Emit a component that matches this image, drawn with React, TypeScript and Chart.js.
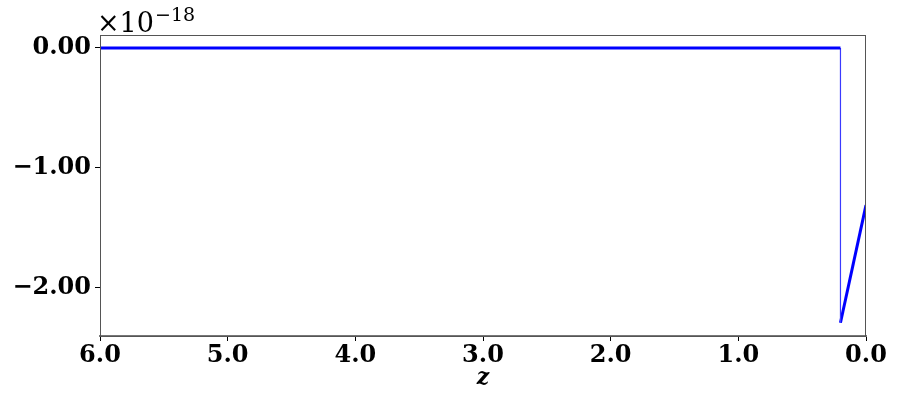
import React, { useEffect, useRef } from "react";
import { Chart, registerables } from "chart.js";

Chart.register(...registerables);

// values in units of 1e-18
const flatZ = [6.0, 0.2];
const flatV = [0.0, 0.0];
const dropZ = [0.2, 0.2];
const dropV = [0.0, -2.29];
const tailZ = [0.2, 0.0];
const tailV = [-2.29, -1.31];
const xTicks = [0, 1, 2, 3, 4, 5, 6];
const yTicks = [0, -1, -2];
const yTickLabels = ["0.00", "\u22121.00", "\u22122.00"];
const xLabel = "z";
const offsetBase = "\u00d710";
const offsetExp = "\u221218";

const toPts = (xs: number[], ys: number[]) => xs.map((x, i) => ({ x, y: ys[i] }));

const framePlugin = {
  id: "frame",
  afterDraw(chart: any) {
    const { ctx, chartArea } = chart;
    const { left, right, top, bottom } = chartArea;
    ctx.save();
    ctx.strokeStyle = "#555";
    ctx.lineWidth = 1;
    ctx.strokeRect(left + 0.5, top + 0.5, right - left - 1, bottom - top);
    ctx.fillStyle = "#000";
    ctx.textBaseline = "alphabetic";
    ctx.textAlign = "left";
    ctx.font = "27px 'DejaVu Serif'";
    ctx.fillText(offsetBase, left - 3, top - 3);
    const w = ctx.measureText(offsetBase).width;
    ctx.font = "19px 'DejaVu Serif'";
    ctx.fillText(offsetExp, left - 3 + w + 1, top - 14);
    ctx.restore();
  },
};

export default function App() {
  const ref = useRef<HTMLCanvasElement>(null);
  useEffect(() => {
    if (!ref.current) return;
    const chart = new Chart(ref.current, {
      type: "line",
      data: {
        datasets: [
          {
            data: toPts(flatZ, flatV),
            borderColor: "#0000ff",
            borderWidth: 3,
            pointRadius: 0,
          },
          {
            data: toPts(dropZ, dropV),
            borderColor: "#3a3aff",
            borderWidth: 1.2,
            pointRadius: 0,
          },
          {
            data: toPts(tailZ, tailV),
            borderColor: "#0000ff",
            borderWidth: 3,
            pointRadius: 0,
          },
        ],
      },
      options: {
        responsive: false,
        animation: false,
        parsing: false as any,
        layout: { padding: { top: 35, right: 31, left: 0, bottom: 0 } },
        plugins: { legend: { display: false }, tooltip: { enabled: false } },
        scales: {
          x: {
            type: "linear",
            reverse: true,
            min: 0,
            max: 6,
            afterBuildTicks: (s: any) => {
              s.ticks = xTicks.map((v) => ({ value: v }));
            },
            afterFit: (s: any) => {
              s.height = 78;
            },
            grid: {
              display: true,
              drawOnChartArea: false,
              drawTicks: true,
              tickLength: 5,
              color: "#000",
            },
            border: { display: true, color: "#777", width: 2 },
            ticks: {
              color: "#000",
              font: { family: "'DejaVu Serif'", size: 24, weight: "bold" },
              padding: 0,
              maxRotation: 0,
              callback: (v: any) => Number(v).toFixed(1),
            },
            title: {
              display: true,
              text: xLabel,
              color: "#000",
              font: { family: "'DejaVu Serif'", size: 22, weight: "bold", style: "italic" },
              padding: { top: 0, bottom: 23 },
            },
          },
          y: {
            type: "linear",
            min: -2.4,
            max: 0.108,
            afterBuildTicks: (s: any) => {
              s.ticks = yTicks.map((v) => ({ value: v }));
            },
            afterFit: (s: any) => {
              s.width = 100;
            },
            grid: {
              display: true,
              drawOnChartArea: false,
              drawTicks: true,
              tickLength: 5,
              color: "#000",
            },
            border: { display: true, color: "#555", width: 1 },
            ticks: {
              color: "#000",
              font: { family: "'DejaVu Serif'", size: 24, weight: "bold" },
              padding: 4,
              callback: (v: any) => {
                const i = yTicks.indexOf(Number(v));
                return i >= 0 ? yTickLabels[i] : "";
              },
            },
          },
        },
      },
      plugins: [framePlugin],
    });
    return () => chart.destroy();
  }, []);
  return (
    <div style={{ position: "fixed", left: 0, top: 0, width: 897, height: 414, background: "#fff" }}>
      <canvas ref={ref} width={897} height={414} />
    </div>
  );
}
